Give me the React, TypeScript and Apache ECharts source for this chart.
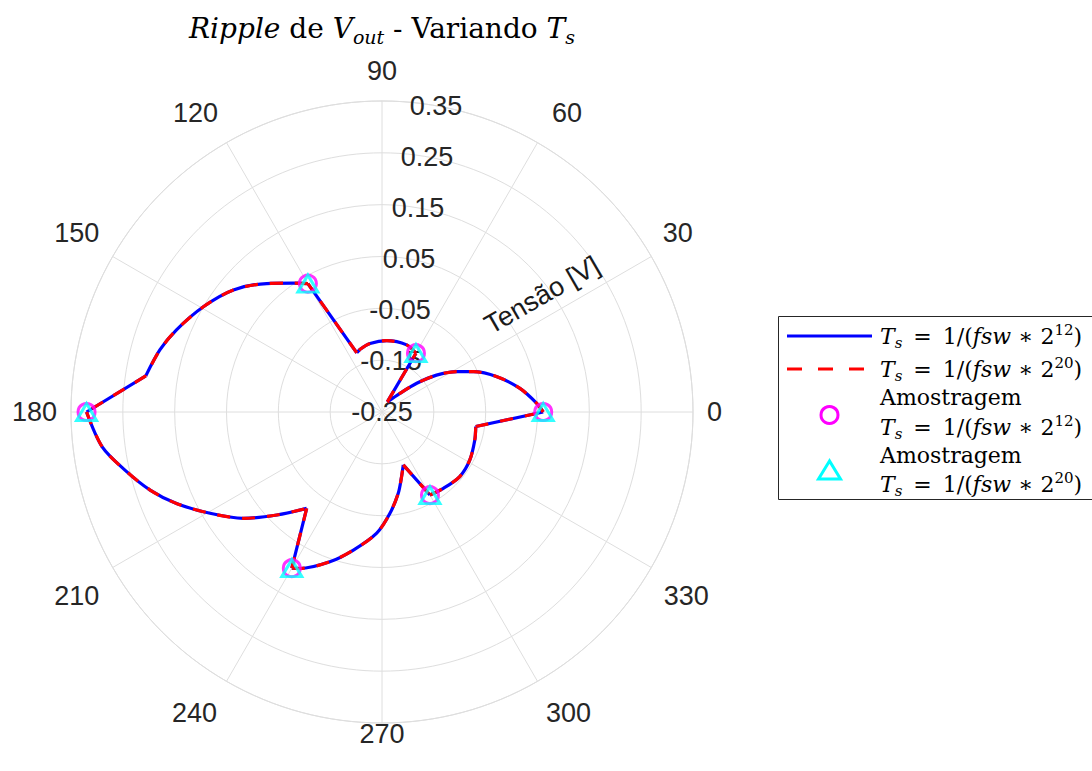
import React, { useEffect, useRef } from "react";
import * as echarts from "echarts";

// ---- axis ticks ----
const thetaTicks = [0, 30, 60, 90, 120, 150, 180, 210, 240, 270, 300, 330];
const rTicks = [-0.25, -0.15, -0.05, 0.05, 0.15, 0.25, 0.35];
const rMin = -0.25;
const rMax = 0.35;
const rStep = 0.1;

// ---- traced ripple curve (theta in degrees, r in volts) ----
const curveTheta = [
  0, 3.2, 9.7, 17.1, 23.8, 28.4, 34.1, 39.6, 46.1, 62,
  60, 69.8, 86.2, 99.9, 109.3, 113.1,
  120, 124.6, 131.9, 140.6, 149.5, 158.2, 164.4, 171.3,
  180, 187.1, 192.8, 198.6, 204.0, 210.5, 217.5, 224.4, 232.0,
  240, 242.3, 250.8, 258.3, 267.5, 274.5, 281.3, 286.9, 291.9,
  300, 308.8, 320.3, 331.4, 343.2, 351.2, 360,
];
const curveR12 = [
  0.061, 0.049, 0.020, -0.018, -0.057, -0.086, -0.123, -0.163, -0.200, -0.228,
  -0.119, -0.112, -0.112, -0.116, -0.122, -0.126,
  0.036, 0.052, 0.083, 0.121, 0.150, 0.177, 0.195, 0.211,
  0.320, 0.294, 0.258, 0.222, 0.184, 0.135, 0.087, 0.034, -0.014,
  0.098, 0.091, 0.056, 0.022, -0.016, -0.054, -0.090, -0.120, -0.140,
  -0.065, -0.061, -0.055, -0.057, -0.063, -0.067, 0.061,
];
const curveR20 = [...curveR12];
// indices in the traced curve where a smooth arc ends and a straight jump begins
const cuspIndex = [9, 15, 23, 32, 41, 47];

// ---- samples ----
const sampleTheta = [0, 60, 120, 180, 240, 300];
const sampleR12 = [0.061, -0.119, 0.036, 0.320, 0.098, -0.065];
const sampleR20 = [0.061, -0.119, 0.036, 0.320, 0.098, -0.065];

const CX = 382;
const CY = 412;
const RAD = 311;
const GRID = "#dedede";
const LABEL = "#262626";
const SANS = "Liberation Sans";
const SERIF = "DejaVu Serif";

// per-label padding [top, right, bottom, left] so angle labels sit like the original
const thetaPad: Record<number, number[]> = {
  0: [0, 0, 0, 17],
  30: [0, 0, 12, 14],
  60: [0, 0, 19, 16],
  90: [0, 0, 20, 0],
  120: [0, 10, 19, 0],
  150: [0, 16, 12, 0],
  180: [0, 17, 0, 0],
  210: [16, 16, 0, 0],
  240: [21, 11, 0, 0],
  270: [0, 0, 0, 0],
  300: [21, 0, 0, 10],
  330: [16, 0, 0, 15],
};

const toPolar = (thetas: number[], rs: number[]) =>
  thetas.map((t, i) => [rs[i] - rMin, t]);

// split the curve into smooth arcs and straight jumps (separated by null breaks)
const buildCurve = (thetas: number[], rs: number[]) => {
  const pts = toPolar(thetas, rs);
  const out: any[] = [];
  let start = 0;
  const bounds: number[] = [];
  cuspIndex.forEach((c) => {
    bounds.push(c);
    bounds.push(c + 1);
  });
  bounds.push(pts.length - 1);
  bounds.forEach((end, k) => {
    if (k > 0) out.push(null);
    for (let i = start; i <= end; i++) out.push(pts[i]);
    start = end;
  });
  return out;
};

const legendRich = {
  i: { fontFamily: SERIF, fontStyle: "italic", fontSize: 22, lineHeight: 28, fill: "#000" },
  n: { fontFamily: SERIF, fontSize: 22, lineHeight: 28, fill: "#000" },
  sub: { fontFamily: SERIF, fontStyle: "italic", fontSize: 15, lineHeight: 15, verticalAlign: "bottom", fill: "#000" },
  sup: { fontFamily: SERIF, fontSize: 15, lineHeight: 15, verticalAlign: "top", fill: "#000" },
};

const tsText = (exp: string) =>
  `{i|T}{sub|s}{n|\u2002=\u20021/(}{i|fsw}{n|\u2004∗\u20042}{sup|${exp}}{n|)}`;

const thetaRich: Record<string, any> = {};
thetaTicks.forEach((t) => {
  thetaRich["p" + t] = {
    padding: thetaPad[t],
    fontSize: 27,
    fontFamily: SANS,
    color: LABEL,
  };
});

export default function App() {
  const ref = useRef<HTMLDivElement>(null);
  useEffect(() => {
    if (!ref.current) return;
    const chart = echarts.init(ref.current, null, { renderer: "svg" });
    const LX = 778;
    const TX = 880;
    const option: any = {
      animation: false,
      backgroundColor: "#ffffff",
      title: {
        text: "{i|Ripple}{n| de }{i|V}{sub|out}{n| - Variando }{i|T}{sub|s}",
        left: CX,
        top: 10,
        padding: 0,
        textAlign: "center",
        textStyle: {
          fontFamily: SERIF,
          fontSize: 28,
          fontWeight: "normal",
          color: "#000",
          lineHeight: 36,
          rich: {
            i: { fontFamily: SERIF, fontStyle: "italic", fontSize: 28, lineHeight: 36, color: "#000" },
            n: { fontFamily: SERIF, fontSize: 28, lineHeight: 36, color: "#000" },
            sub: { fontFamily: SERIF, fontStyle: "italic", fontSize: 19, lineHeight: 19, verticalAlign: "bottom", color: "#000" },
          },
        },
      },
      polar: [
        { center: [CX, CY], radius: RAD },
        { center: [CX, CY], radius: RAD },
      ],
      angleAxis: [
        {
          polarIndex: 0,
          type: "value",
          min: 0,
          max: 360,
          interval: 30,
          startAngle: 0,
          clockwise: false,
          axisLine: { show: true, lineStyle: { color: GRID, width: 1 } },
          axisTick: { show: false },
          splitLine: { show: true, lineStyle: { color: GRID, width: 1 } },
          axisLabel: {
            margin: -3,
            fontSize: 27,
            fontFamily: SANS,
            color: LABEL,
            rich: thetaRich,
            formatter: (v: number) => {
              const t = Math.round(v);
              const idx = thetaTicks.indexOf(t);
              return idx >= 0 ? `{p${t}|${thetaTicks[idx]}}` : "";
            },
          },
        },
        {
          polarIndex: 1,
          type: "value",
          min: 0,
          max: 360,
          startAngle: 80,
          clockwise: false,
          show: false,
        },
      ],
      radiusAxis: [
        {
          polarIndex: 0,
          type: "value",
          min: 0,
          max: rMax - rMin,
          interval: rStep,
          axisLine: { show: false },
          axisTick: { show: false },
          axisLabel: { show: false },
          splitLine: { show: true, lineStyle: { color: GRID, width: 1 } },
        },
        {
          polarIndex: 1,
          type: "value",
          min: 0,
          max: rMax - rMin,
          interval: rStep,
          axisLine: { show: false },
          axisTick: { show: false },
          splitLine: { show: false },
          splitArea: { show: false },
          axisLabel: {
            show: true,
            margin: 0,
            rotate: 0,
            align: "center",
            verticalAlign: "middle",
            fontSize: 27,
            fontFamily: SANS,
            color: LABEL,
            formatter: (v: number) => {
              const idx = Math.round(v / rStep);
              return rTicks[idx] !== undefined ? rTicks[idx].toFixed(2) : "";
            },
          },
        },
      ],
      series: [
        {
          name: "Ts12",
          type: "line",
          coordinateSystem: "polar",
          polarIndex: 0,
          data: buildCurve(curveTheta, curveR12),
          showSymbol: false,
          symbol: "none",
          smooth: 0.3,
          connectNulls: false,
          lineStyle: { color: "#0000ff", width: 3.2 },
          z: 3,
        },
        {
          name: "Ts20",
          type: "line",
          coordinateSystem: "polar",
          polarIndex: 0,
          data: buildCurve(curveTheta, curveR20),
          showSymbol: false,
          symbol: "none",
          smooth: 0.3,
          connectNulls: false,
          lineStyle: { color: "#ff0000", width: 3.2, type: [13, 12] },
          z: 4,
        },
        {
          name: "Amostragem12",
          type: "scatter",
          coordinateSystem: "polar",
          polarIndex: 0,
          data: toPolar(sampleTheta, sampleR12),
          symbol: "circle",
          symbolSize: 17,
          itemStyle: { color: "rgba(0,0,0,0)", borderColor: "#ff00ff", borderWidth: 3 },
          z: 5,
        },
        {
          name: "Amostragem20",
          type: "scatter",
          coordinateSystem: "polar",
          polarIndex: 0,
          data: toPolar(sampleTheta, sampleR20),
          symbol: "triangle",
          symbolSize: [20, 17],
          itemStyle: { color: "rgba(0,0,0,0)", borderColor: "#00ffff", borderWidth: 3 },
          z: 6,
        },
      ],
      graphic: [
        {
          type: "text",
          x: 542,
          y: 295,
          rotation: Math.PI / 6,
          z: 10,
          style: {
            text: "Tensão [V]",
            fontFamily: SANS,
            fontSize: 27,
            fill: "#1a1a1a",
            align: "center",
            verticalAlign: "middle",
          },
        },
        {
          type: "group",
          z: 20,
          children: [
            {
              type: "rect",
              shape: { x: LX + 0.5, y: 316.5, width: 340, height: 183 },
              style: { fill: "#ffffff", stroke: "#262626", lineWidth: 1 },
            },
            {
              type: "line",
              shape: { x1: 787, y1: 336, x2: 872, y2: 336 },
              style: { stroke: "#0000ff", lineWidth: 3 },
            },
            {
              type: "line",
              shape: { x1: 787, y1: 369, x2: 872, y2: 369 },
              style: { stroke: "#ff0000", lineWidth: 3, lineDash: [15, 16] },
            },
            {
              type: "circle",
              shape: { cx: 829.5, cy: 415, r: 8.5 },
              style: { fill: "none", stroke: "#ff00ff", lineWidth: 3 },
            },
            {
              type: "polygon",
              shape: { points: [[829.5, 461], [818.5, 479], [840.5, 479]] },
              style: { fill: "none", stroke: "#00ffff", lineWidth: 3 },
            },
            {
              type: "text",
              x: TX,
              y: 336,
              style: { text: tsText("12"), rich: legendRich, align: "left", verticalAlign: "middle" },
            },
            {
              type: "text",
              x: TX,
              y: 369,
              style: { text: tsText("20"), rich: legendRich, align: "left", verticalAlign: "middle" },
            },
            {
              type: "text",
              x: TX,
              y: 397,
              style: { text: "{n|Amostragem}", rich: legendRich, align: "left", verticalAlign: "middle" },
            },
            {
              type: "text",
              x: TX,
              y: 427,
              style: { text: tsText("12"), rich: legendRich, align: "left", verticalAlign: "middle" },
            },
            {
              type: "text",
              x: TX,
              y: 455,
              style: { text: "{n|Amostragem}", rich: legendRich, align: "left", verticalAlign: "middle" },
            },
            {
              type: "text",
              x: TX,
              y: 484,
              style: { text: tsText("20"), rich: legendRich, align: "left", verticalAlign: "middle" },
            },
          ],
        },
      ],
    };
    chart.setOption(option);
    return () => chart.dispose();
  }, []);
  return (
    <div
      ref={ref}
      style={{ position: "fixed", left: 0, top: 0, width: 1092, height: 771, background: "#fff" }}
    />
  );
}
